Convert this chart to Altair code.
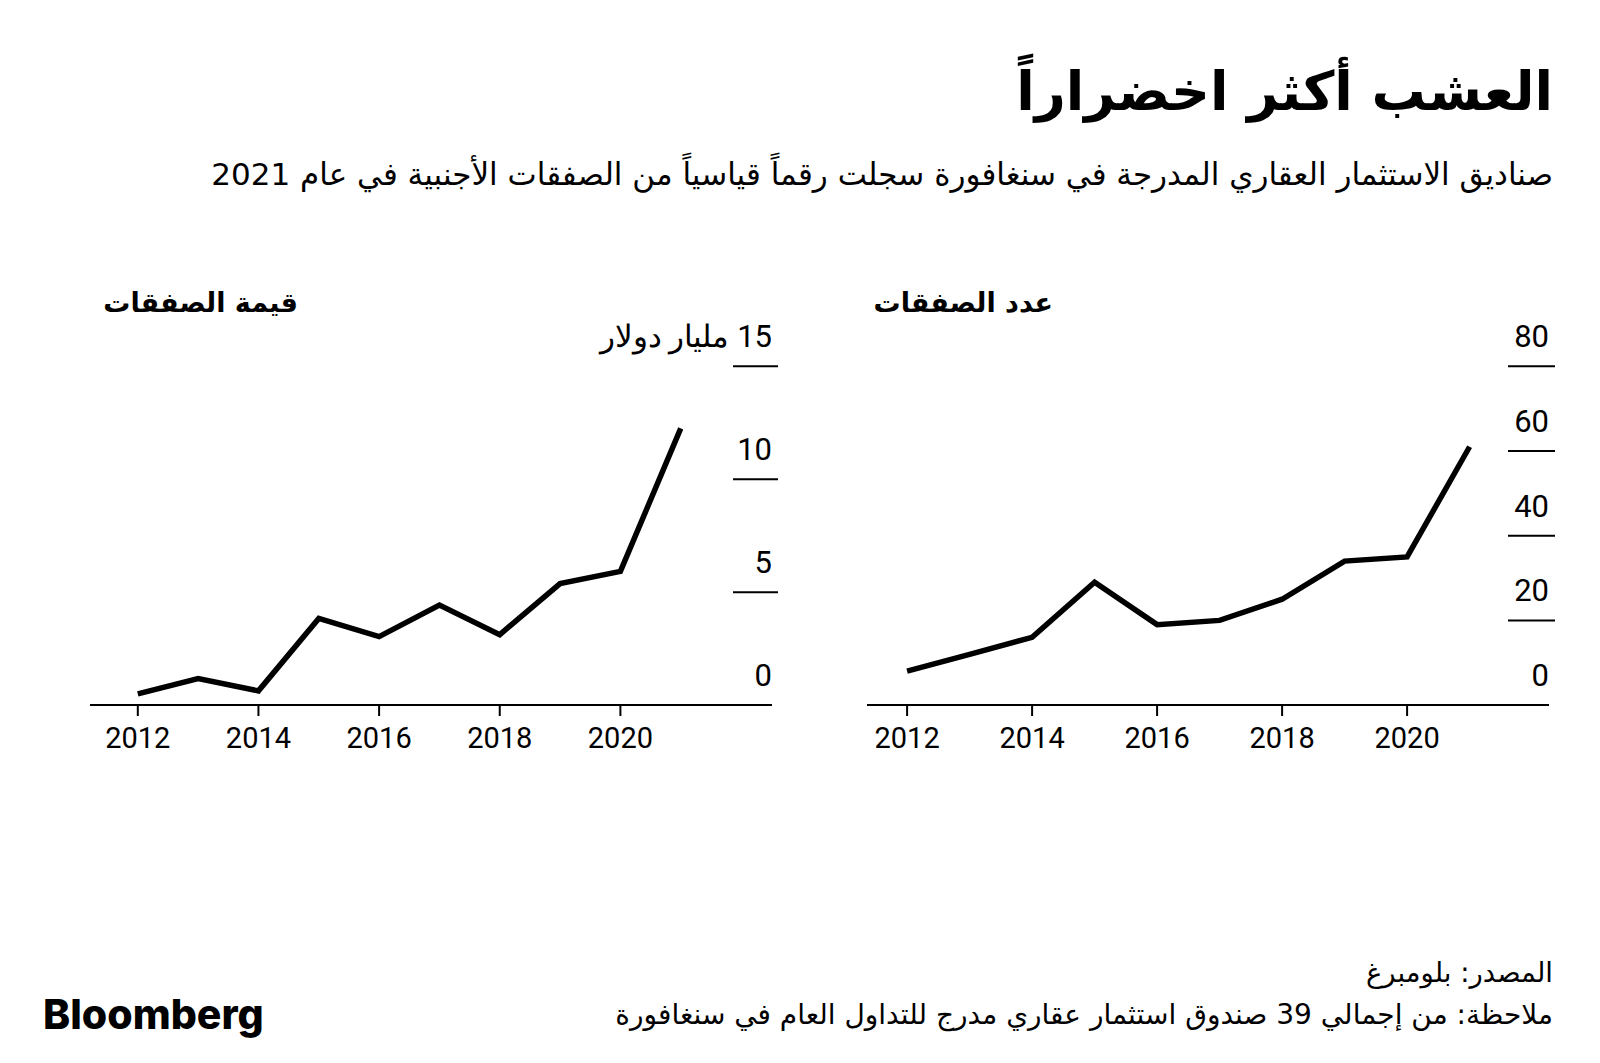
import altair as alt
import pandas as pd

# ---------------- data ----------------
years = [2012, 2013, 2014, 2015, 2016, 2017, 2018, 2019, 2020, 2021]
deal_value = [0.5, 1.17, 0.63, 3.84, 3.03, 4.43, 3.12, 5.38, 5.92, 12.25]   # billion USD
deal_count = [8, 12, 16, 29, 19, 20, 25, 34, 35, 61]
x_ticks = [2012, 2014, 2016, 2018, 2020]
value_ticks = [0, 5, 10, 15]
count_ticks = [0, 20, 40, 60, 80]
value_unit = "مليار دولار"

title_text = "العشب أكثر اخضراراً"
subtitle_text = "صناديق الاستثمار العقاري المدرجة في سنغافورة سجلت رقماً قياسياً من الصفقات الأجنبية في عام 2021"
left_title = "قيمة الصفقات"
right_title = "عدد الصفقات"
source_text = "المصدر: بلومبرغ"
note_text = "ملاحظة: من إجمالي 39 صندوق استثمار عقاري مدرج للتداول العام في سنغافورة"
brand_text = "Bloomberg"

AR_FONT = "DejaVu Sans"
NUM_FONT = "Roboto"


def panel(values, ticks, top, unit, x_range, axis_px, grid_px, label_px):
    xs = alt.Scale(domain=[2012, 2020], range=x_range, nice=False, zero=False)
    ys = alt.Scale(domain=[0, top], range=[697.1, 358.3], nice=False, zero=False)
    df = pd.DataFrame({"year": years, "v": values})
    tdf = pd.DataFrame({"year": x_ticks})
    labels = [(f"{unit} \u200e{t}" if (t == top and unit) else str(t)) for t in ticks]
    ydf = pd.DataFrame({"v": ticks, "t": labels})
    gdf = pd.DataFrame({"v": [t for t in ticks if t != 0]})

    base = alt.Chart(pd.DataFrame({"v": [0]})).mark_rule(color="black", strokeWidth=2).encode(
        x=alt.value(axis_px[0]), x2=alt.value(axis_px[1]),
        y=alt.Y("v:Q", scale=ys, axis=None))
    tick = alt.Chart(tdf).mark_rule(color="black", strokeWidth=2).encode(
        x=alt.X("year:Q", scale=xs, axis=None), y=alt.value(697), y2=alt.value(708))
    xlab = alt.Chart(tdf).mark_text(font=NUM_FONT, fontSize=29, baseline="middle", color="black").encode(
        x=alt.X("year:Q", scale=xs, axis=None), y=alt.value(731),
        text=alt.Text("year:Q", format="d"))
    grid = alt.Chart(gdf).mark_rule(color="black", strokeWidth=2).encode(
        x=alt.value(grid_px[0]), x2=alt.value(grid_px[1]),
        y=alt.Y("v:Q", scale=ys, axis=None))
    ylab = alt.Chart(ydf).mark_text(font=NUM_FONT, fontSize=31, align="right", baseline="middle",
                                    dy=-28, color="black").encode(
        x=alt.value(label_px), y=alt.Y("v:Q", scale=ys, axis=None), text="t:N")
    line = alt.Chart(df).mark_line(color="black", strokeWidth=5.5).encode(
        x=alt.X("year:Q", scale=xs, axis=None), y=alt.Y("v:Q", scale=ys, axis=None))
    return alt.layer(base, tick, xlab, grid, ylab, line)


left = panel(deal_value, value_ticks, 15, value_unit, [129.8, 612.4], [82, 764], [725, 770], 764)
right = panel(deal_count, count_ticks, 80, "", [899.1, 1399.1], [859, 1541], [1500, 1547], 1541)


def text_layer(txt, x, y, size, weight="normal", align="right", font=AR_FONT):
    return alt.Chart(pd.DataFrame({"t": [txt]})).mark_text(
        font=font, fontSize=size, fontWeight=weight, align=align, baseline="alphabetic",
        color="black"
    ).encode(x=alt.value(x), y=alt.value(y), text="t:N")


texts = [
    text_layer(title_text, 1545, 102, 54, "bold"),
    text_layer(subtitle_text, 1545, 177, 31),
    text_layer(left_title, 290, 304, 27, "bold"),
    text_layer(right_title, 1045, 304, 27, "bold"),
    text_layer(source_text, 1545, 974, 27.5),
    text_layer(note_text, 1545, 1016, 28),
    text_layer(brand_text, 35, 1021, 41, 800, align="left", font="Inter"),
]

chart = alt.layer(left, right, *texts).resolve_scale(
    x="independent", y="independent"
).properties(
    width=1584, height=1047, padding=0,
    autosize=alt.AutoSizeParams(type="none"),
    background="white",
).configure_view(stroke=None)

chart.save("out.html", embed_options={"renderer": "svg", "actions": False})
